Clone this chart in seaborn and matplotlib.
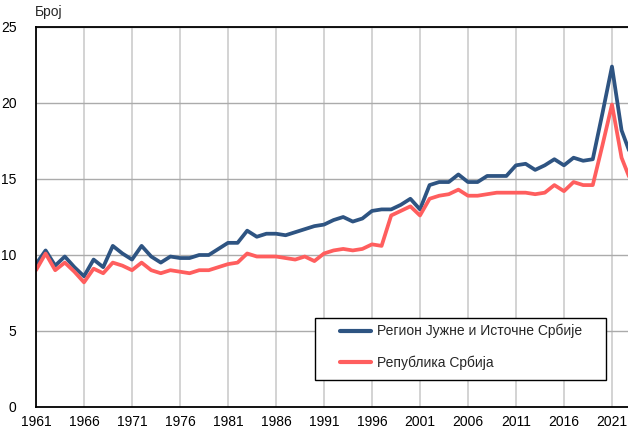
import numpy as np
import pandas as pd
import matplotlib
matplotlib.use("Agg")
import matplotlib.pyplot as plt
from matplotlib.patches import Rectangle
import seaborn as sns

years = list(range(1961, 2024))

region = [9.4, 10.3, 9.3, 9.9, 9.2, 8.6, 9.7, 9.2, 10.6, 10.1,
          9.7, 10.6, 9.9, 9.5, 9.9, 9.8, 9.8, 10.0, 10.0, 10.4,
          10.8, 10.8, 11.6, 11.2, 11.4, 11.4, 11.3, 11.5, 11.7, 11.9,
          12.0, 12.3, 12.5, 12.2, 12.4, 12.9, 13.0, 13.0, 13.3, 13.7,
          13.0, 14.6, 14.8, 14.8, 15.3, 14.8, 14.8, 15.2, 15.2, 15.2,
          15.9, 16.0, 15.6, 15.9, 16.3, 15.9, 16.4, 16.2, 16.3, 19.3,
          22.4, 18.2, 16.5]

serbia = [9.0, 10.1, 9.0, 9.5, 8.9, 8.2, 9.1, 8.8, 9.5, 9.3,
          9.0, 9.5, 9.0, 8.8, 9.0, 8.9, 8.8, 9.0, 9.0, 9.2,
          9.4, 9.5, 10.1, 9.9, 9.9, 9.9, 9.8, 9.7, 9.9, 9.6,
          10.1, 10.3, 10.4, 10.3, 10.4, 10.7, 10.6, 12.6, 12.9, 13.2,
          12.6, 13.7, 13.9, 14.0, 14.3, 13.9, 13.9, 14.0, 14.1, 14.1,
          14.1, 14.1, 14.0, 14.1, 14.6, 14.2, 14.8, 14.6, 14.6, 17.2,
          19.9, 16.4, 14.8]

series_names = ["Регион Јужне и Источне Србије", "Република Србија"]
colors = ["#2E5482", "#FF5E5E"]
xticks = list(range(1961, 2022, 5))
yticks = [0, 5, 10, 15, 20, 25]

df = pd.DataFrame({
    "year": years * 2,
    "value": region + serbia,
    "series": [series_names[0]] * len(years) + [series_names[1]] * len(years),
})

sns.set_style("white")
plt.rcParams["font.family"] = ["Liberation Sans", "DejaVu Sans"]

W, H = 628, 428
fig = plt.figure(figsize=(W / 100, H / 100), dpi=100)
ax = fig.add_axes([36 / W, 21 / H, 1 - 36 / W, 380 / H])

sns.lineplot(data=df, x="year", y="value", hue="series",
             palette=dict(zip(series_names, colors)), linewidth=2.7,
             ax=ax, legend=True)

ax.set_xlim(1961, 2022.67)
ax.set_ylim(0, 25)
ax.set_xticks(xticks)
ax.set_yticks(yticks)
ax.tick_params(axis="both", length=0, labelsize=10, colors="black")
ax.tick_params(axis="x", pad=6)
ax.tick_params(axis="y", pad=14)
ax.xaxis.grid(True, color="#C8C8C8", linewidth=1.1)
ax.yaxis.grid(True, color="#ABABAB", linewidth=1.0)
ax.set_xlabel("")
ax.set_ylabel("")
for side in ["left", "bottom", "top"]:
    ax.spines[side].set_color("black")
    ax.spines[side].set_linewidth(1.3)
ax.spines["right"].set_visible(False)

fig.text(35 / W, 1 - 12 / H, "Број", fontsize=10, va="center", ha="left")

# legend box drawn separately so the padding can differ per direction
box = Rectangle((315 / W, 1 - 380 / H), 291 / W, 62 / H,
                transform=fig.transFigure, facecolor="white",
                edgecolor="black", linewidth=1.0, zorder=5)
fig.add_artist(box)

leg = ax.legend(loc="upper left", bbox_to_anchor=(340 / W, 1 - 324 / H),
                bbox_transform=fig.transFigure, fontsize=10, frameon=False,
                handlelength=2.2, labelspacing=1.25, borderpad=0,
                borderaxespad=0, handletextpad=0.45)
leg.set_zorder(6)
fig.add_artist(leg)
for line in leg.get_lines():
    line.set_linewidth(3.0)

fig.savefig("out.png", dpi=100)
